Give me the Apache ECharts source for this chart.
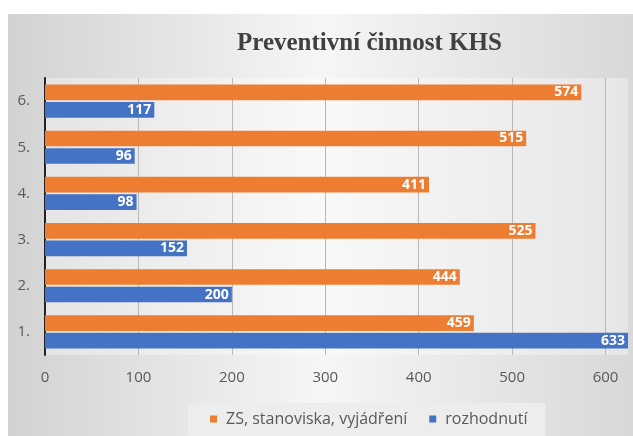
<!DOCTYPE html>
<html>
<head>
<meta charset="utf-8">
<title>Preventivní činnost KHS</title>
<script src="https://cdn.jsdelivr.net/npm/echarts@6/dist/echarts.min.js"></script>
<style>
html, body { margin: 0; padding: 0; background: #fff; }
#main { width: 633px; height: 436px; }
</style>
</head>
<body>
<div id="main"></div>
<script>
// data, bottom row first
var categories = ['1.', '2.', '3.', '4.', '5.', '6.'];
var zsValues = [459, 444, 525, 411, 515, 574];
var rozhodnutiValues = [633, 200, 152, 98, 96, 117];
var seriesNames = ['ZS, stanoviska, vyjádření', 'rozhodnutí'];

var myChart = echarts.init(document.getElementById('main'));

var barLabel = {
    show: true,
    position: 'insideRight',
    color: '#fff',
    fontWeight: 'bold',
    fontSize: 14,
    fontFamily: 'Open Sans',
    distance: 3
};

myChart.setOption({
    backgroundColor: '#fff',
    animation: false,
    graphic: [{
        type: 'rect',
        left: 8, top: 14,
        shape: { width: 625, height: 422 },
        style: {
            fill: new echarts.graphic.LinearGradient(0, 0, 1, 0, [
                { offset: 0, color: '#d2d2d2' },
                { offset: 0.5, color: '#f6f6f6' },
                { offset: 1, color: '#d8d8d8' }
            ])
        },
        z: -10
    }],
    title: {
        text: 'Preventivní činnost KHS',
        left: 232,
        top: 26,
        textStyle: {
            fontFamily: 'Liberation Serif',
            fontWeight: 'bold',
            fontSize: 25,
            color: '#404040'
        }
    },
    legend: {
        data: seriesNames,
        left: 188,
        top: 403,
        itemWidth: 7,
        itemHeight: 7,
        itemGap: 22,
        padding: [8, 18, 12, 22],
        backgroundColor: '#ededed',
        icon: 'rect',
        textStyle: {
            color: '#595959',
            fontSize: 16,
            fontFamily: 'Open Sans',
            padding: [0, 0, 0, 4]
        }
    },
    grid: {
        left: 45,
        right: 5,
        top: 78,
        bottom: 81,
        show: true,
        borderWidth: 0,
        backgroundColor: 'rgba(255,255,255,0.35)'
    },
    xAxis: {
        type: 'value',
        min: 0,
        max: 624,
        interval: 100,
        axisLine: { show: false },
        axisTick: { show: false },
        axisLabel: {
            showMaxLabel: false,
            color: '#595959',
            fontSize: 15,
            fontFamily: 'Open Sans',
            margin: 15
        },
        splitLine: { showMaxLine: false, lineStyle: { color: '#b8b8b8' } }
    },
    yAxis: {
        type: 'category',
        data: categories,
        axisLine: { lineStyle: { color: '#222', width: 2 } },
        axisTick: { show: false },
        axisLabel: {
            color: '#595959',
            fontSize: 15,
            fontFamily: 'Open Sans',
            margin: 15
        }
    },
    series: [
        {
            name: seriesNames[0],
            type: 'bar',
            data: zsValues,
            barGap: '12%',
            barCategoryGap: '28%',
            itemStyle: { color: '#ed7d31' },
            label: barLabel
        },
        {
            name: seriesNames[1],
            type: 'bar',
            data: rozhodnutiValues,
            itemStyle: { color: '#4472c4' },
            label: barLabel
        }
    ]
});
</script>
</body>
</html>
